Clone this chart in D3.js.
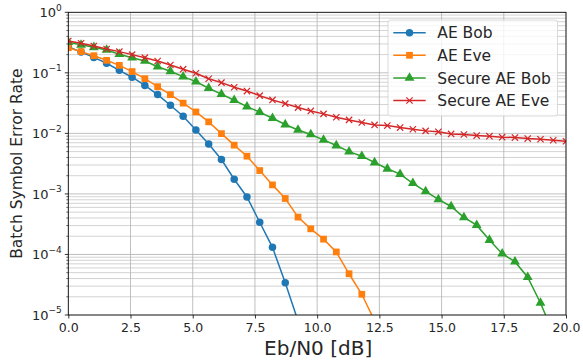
<!DOCTYPE html>
<html>
<head>
<meta charset="utf-8">
<script src="https://cdn.jsdelivr.net/npm/d3@7"></script>
<style>
  body { margin: 0; background: #fff; }
  svg { display: block; font-family: "DejaVu Sans", sans-serif; }
</style>
</head>
<body>
<div id="chart"></div>
<script>
// Eb/N0 sample points: 40 points over 0..20 dB
const ebn0 = d3.range(40).map(k => k * 20 / 39);

const aeBob = [0.27, 0.22, 0.18, 0.144, 0.110, 0.0846, 0.062, 0.0437, 0.0292, 0.0192,
  0.0114, 0.0067, 0.0037, 0.00175, 0.00089, 0.00034, 0.000131, 3.4e-5, 8e-6];
const aeEve = [0.26, 0.224, 0.192, 0.161, 0.133, 0.105, 0.080, 0.059, 0.0436, 0.0316,
  0.0226, 0.0155, 0.0099, 0.0064, 0.0042, 0.00243, 0.00141, 0.00084, 0.000414, 0.000265,
  0.000179, 0.000110, 4.8e-5, 2.2e-5, 8e-6];
const secBob = [0.32, 0.29, 0.264, 0.239, 0.203, 0.178, 0.157, 0.126, 0.106, 0.0865,
  0.0716, 0.0557, 0.0444, 0.0353, 0.0277, 0.0224, 0.0178, 0.014, 0.0114, 0.0096,
  0.0078, 0.0063, 0.005, 0.0042, 0.0033, 0.0026, 0.00212, 0.0015, 0.0011, 0.00081,
  0.00062, 0.00041, 0.000305, 0.000173, 0.000103, 7.6e-5, 4.2e-5, 1.58e-5, 5e-6];
const secEve = [0.336, 0.308, 0.278, 0.248, 0.224, 0.2, 0.178, 0.157, 0.135, 0.115,
  0.0985, 0.080, 0.0689, 0.0578, 0.050, 0.042, 0.0357, 0.031, 0.0267, 0.0235,
  0.021, 0.0185, 0.0167, 0.0151, 0.0138, 0.01345, 0.01247, 0.01172, 0.011, 0.0106,
  0.0098, 0.0096, 0.0092, 0.009, 0.00865, 0.00853, 0.0082, 0.008, 0.0077, 0.0074];

const xTicks = [0, 2.5, 5, 7.5, 10, 12.5, 15, 17.5, 20];
const yExps = [0, -1, -2, -3, -4, -5];

const series = [
  { name: "AE Bob", values: aeBob, color: "#1f77b4", marker: "circle" },
  { name: "AE Eve", values: aeEve, color: "#ff7f0e", marker: "square" },
  { name: "Secure AE Bob", values: secBob, color: "#2ca02c", marker: "triangle" },
  { name: "Secure AE Eve", values: secEve, color: "#d62728", marker: "x" }
];

const W = 583, H = 364;
const margin = { left: 68.3, right: 17, top: 12.3, bottom: 49 };
const width = W - margin.left - margin.right;
const height = H - margin.top - margin.bottom;

const svg = d3.select("#chart").append("svg")
  .attr("width", W).attr("height", H);

svg.append("defs").append("clipPath").attr("id", "clip")
  .append("rect").attr("width", width).attr("height", height);

const g = svg.append("g")
  .attr("transform", "translate(" + margin.left + "," + margin.top + ")");

const x = d3.scaleLinear().domain([0, 20]).range([0, width]);
const y = d3.scaleLog().domain([1e-5, 1]).range([height, 0]);

// minor decade values
const minors = [];
yExps.slice(1).forEach(e => {
  for (let m = 2; m <= 9; m++) minors.push(m * Math.pow(10, e));
});

// grid
g.append("g").selectAll("line").data(minors).enter().append("line")
  .attr("x1", 0).attr("x2", width)
  .attr("y1", d => y(d)).attr("y2", d => y(d))
  .attr("stroke", "#c8c8c8").attr("stroke-width", 0.8);
g.append("g").selectAll("line").data(yExps).enter().append("line")
  .attr("x1", 0).attr("x2", width)
  .attr("y1", d => y(Math.pow(10, d))).attr("y2", d => y(Math.pow(10, d)))
  .attr("stroke", "#b0b0b0").attr("stroke-width", 0.8);
g.append("g").selectAll("line").data(xTicks).enter().append("line")
  .attr("x1", d => x(d)).attr("x2", d => x(d))
  .attr("y1", 0).attr("y2", height)
  .attr("stroke", "#b0b0b0").attr("stroke-width", 0.8);

// x axis
const xAxis = g.append("g")
  .attr("transform", "translate(0," + height + ")")
  .call(d3.axisBottom(x).tickValues(xTicks).tickFormat(d3.format(".1f")).tickSizeOuter(0).tickSize(3.5));
xAxis.select(".domain").remove();
xAxis.selectAll("line").attr("stroke", "#000").attr("stroke-width", 0.8);
xAxis.selectAll("text").attr("font-size", 12.5).attr("fill", "#262626")
  .attr("font-family", "DejaVu Sans").attr("dy", "0.71em").attr("y", 8);

// y axis major ticks + labels
const yAxis = g.append("g");
yAxis.selectAll("line.major").data(yExps).enter().append("line")
  .attr("x1", -3.5).attr("x2", 0)
  .attr("y1", d => y(Math.pow(10, d))).attr("y2", d => y(Math.pow(10, d)))
  .attr("stroke", "#000").attr("stroke-width", 0.8);
yAxis.selectAll("line.minor").data(minors).enter().append("line")
  .attr("x1", -2).attr("x2", 0)
  .attr("y1", d => y(d)).attr("y2", d => y(d))
  .attr("stroke", "#000").attr("stroke-width", 0.6);
const ylab = yAxis.selectAll("text").data(yExps).enter().append("text")
  .attr("x", -6.5).attr("y", d => y(Math.pow(10, d)) + 4.8)
  .attr("text-anchor", "end").attr("font-size", 13).attr("fill", "#262626");
ylab.append("tspan").text("10");
ylab.append("tspan").attr("dy", -6.5).attr("font-size", 9)
  .text(d => d === 0 ? "0" : "\u2212" + (-d));

// lines + markers
const line = d3.line().x((d, i) => x(ebn0[i])).y(d => y(d));
const plot = g.append("g").attr("clip-path", "url(#clip)");

function drawMarker(sel, type, color, size) {
  if (type === "circle") {
    sel.append("circle").attr("r", size * 0.5).attr("fill", color);
  } else if (type === "square") {
    sel.append("rect").attr("x", -size * 0.45).attr("y", -size * 0.45)
      .attr("width", size * 0.9).attr("height", size * 0.9).attr("fill", color);
  } else if (type === "triangle") {
    sel.append("path").attr("d", d3.symbol().type(d3.symbolTriangle).size(size * size * 0.75)).attr("fill", color);
  } else {
    const r = size * 0.42;
    sel.append("path").attr("d", "M" + -r + "," + -r + "L" + r + "," + r + "M" + -r + "," + r + "L" + r + "," + -r)
      .attr("stroke", color).attr("stroke-width", 1.2).attr("fill", "none");
  }
}

series.forEach(s => {
  plot.append("path").datum(s.values)
    .attr("d", line).attr("fill", "none")
    .attr("stroke", s.color).attr("stroke-width", 1.5);
  const pts = plot.append("g").selectAll("g").data(s.values).enter().append("g")
    .attr("transform", (d, i) => "translate(" + x(ebn0[i]) + "," + y(d) + ")");
  pts.each(function () { drawMarker(d3.select(this), s.marker, s.color, 7.5); });
});

// frame
g.append("rect").attr("width", width).attr("height", height)
  .attr("fill", "none").attr("stroke", "#000").attr("stroke-width", 0.8);

// axis labels
svg.append("text").attr("x", margin.left + width / 2 + 1).attr("y", 355)
  .attr("text-anchor", "middle").attr("font-size", 20).attr("fill", "#262626")
  .text("Eb/N0 [dB]");
svg.append("text")
  .attr("transform", "translate(21.5," + (margin.top + height / 2) + ") rotate(-90)")
  .attr("text-anchor", "middle").attr("font-size", 15.5).attr("fill", "#262626")
  .text("Batch Symbol Error Rate");

// legend
const leg = svg.append("g").attr("transform", "translate(388,20)");
leg.append("rect").attr("width", 169.5).attr("height", 96).attr("rx", 2.5)
  .attr("fill", "#fff").attr("fill-opacity", 0.8)
  .attr("stroke", "#d0d0d0").attr("stroke-width", 0.8);
const items = leg.selectAll("g").data(series).enter().append("g")
  .attr("transform", (d, i) => "translate(0," + (12.7 + i * 22.6) + ")");
items.append("line").attr("x1", 5.3).attr("x2", 37.7)
  .attr("stroke", d => d.color).attr("stroke-width", 1.5);
items.each(function (d) {
  const mg = d3.select(this).append("g").attr("transform", "translate(21.5,0)");
  drawMarker(mg, d.marker, d.color, 7.5);
});
items.append("text").attr("x", 49.3).attr("y", 5.6)
  .attr("font-size", 15.5).attr("fill", "#262626").text(d => d.name);
</script>
</body>
</html>
